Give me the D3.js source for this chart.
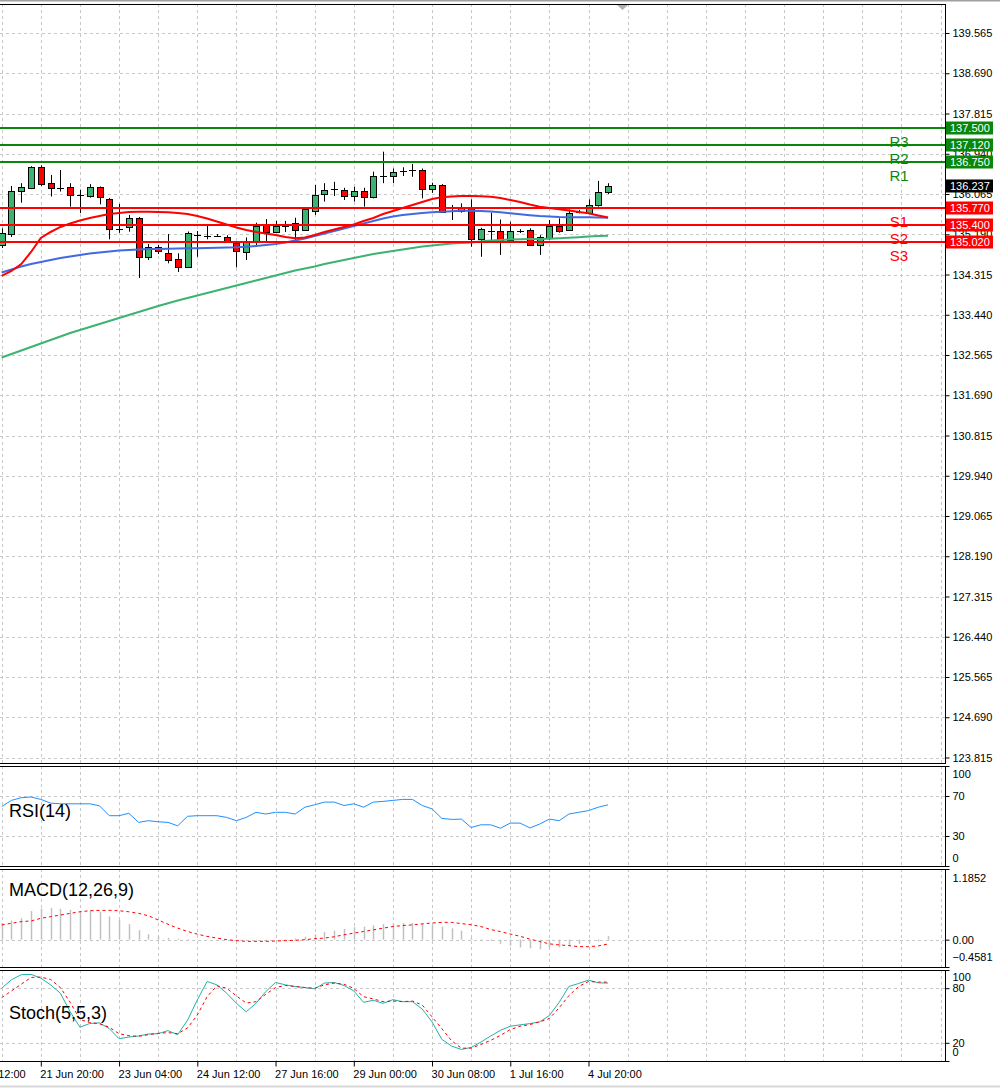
<!DOCTYPE html>
<html>
<head>
<meta charset="utf-8">
<script src="https://cdnjs.cloudflare.com/ajax/libs/d3/7.8.5/d3.min.js"></script>
<style>
body { margin: 0; background: #fff; }
svg { display: block; font-family: "Liberation Sans", Arial, sans-serif; }
</style>
</head>
<body>
<div id="chart"></div>
<script>
// H4 candles, index 0 = 21 Jun 04:00
var openP = [134.956,135.195,136.115,136.189,136.646,136.300,136.206,136.210,136.040,136.006,
             136.210,135.950,135.315,135.330,135.536,134.690,134.906,134.776,134.645,134.485,
             135.174,135.160,135.170,135.120,134.993,134.810,135.040,135.390,135.245,135.370,
             135.440,135.280,135.700,136.058,136.174,136.152,136.028,136.130,135.990,136.445,
             136.456,136.570,136.587,136.587,136.167,136.260,135.717,135.680,135.750,135.080,
             135.267,135.267,135.065,135.260,135.280,134.956,135.120,135.370,135.267,135.670,
             135.645,135.826,136.100];
var highP = [135.320,136.240,136.300,136.670,136.690,136.480,136.587,136.300,136.160,136.280,
             136.230,135.980,135.850,135.610,135.565,134.978,134.956,135.195,134.776,135.250,
             135.260,135.370,135.195,135.170,135.020,135.120,135.440,135.520,135.480,135.480,
             135.550,135.760,136.260,136.300,136.330,136.200,136.220,136.200,136.550,136.985,
             136.620,136.646,136.720,136.620,136.310,136.280,135.826,135.860,135.950,135.330,
             135.660,135.510,135.460,135.300,135.320,135.170,135.500,135.536,135.730,135.720,
             135.950,136.350,136.300];
var lowP = [134.890,135.130,135.876,136.170,136.240,136.010,136.120,135.790,135.650,135.985,
            135.840,135.080,135.220,135.245,134.240,134.630,134.760,134.558,134.370,134.480,
            134.700,135.080,135.150,135.000,134.470,134.630,134.920,135.030,135.240,135.240,
            135.065,135.260,135.610,135.900,136.020,135.935,135.900,135.790,135.970,136.300,
            136.300,136.456,136.440,135.970,136.090,135.660,135.500,135.660,134.920,134.700,
            135.030,134.740,135.030,135.217,134.935,134.740,135.065,135.224,135.260,135.645,
            135.630,135.790,136.065];
var closeP = [135.217,136.130,136.210,136.646,136.283,136.190,136.185,136.028,136.035,136.210,
              135.985,135.300,135.300,135.536,134.690,134.906,134.810,134.630,134.470,135.224,
              135.165,135.152,135.162,135.006,134.810,135.040,135.370,135.245,135.370,135.380,
              135.280,135.730,136.040,136.150,136.165,136.028,136.130,135.990,136.456,136.456,
              136.550,136.565,136.576,136.167,136.260,135.680,135.706,135.750,135.080,135.300,
              135.260,135.065,135.267,135.250,134.956,135.137,135.370,135.267,135.645,135.680,
              135.826,136.100,136.237];

var maRed = [134.283,134.391,134.543,134.804,135.109,135.239,135.348,135.424,135.489,135.543,
             135.587,135.630,135.652,135.674,135.680,135.680,135.674,135.667,135.652,135.630,
             135.587,135.533,135.467,135.402,135.337,135.283,135.239,135.207,135.174,135.130,
             135.102,135.120,135.174,135.239,135.293,135.348,135.402,135.478,135.543,135.630,
             135.696,135.761,135.826,135.891,135.957,135.993,136.011,136.022,136.022,136.015,
             136.007,135.978,135.935,135.891,135.837,135.789,135.761,135.733,135.707,135.674,
             135.646,135.598,135.554];
var maBlue = [134.359,134.424,134.489,134.543,134.587,134.630,134.674,134.707,134.739,134.772,
              134.793,134.815,134.837,134.848,134.859,134.870,134.870,134.876,134.880,134.885,
              134.887,134.891,134.896,134.902,134.907,134.917,134.935,134.957,134.978,135.011,
              135.054,135.098,135.152,135.207,135.261,135.315,135.370,135.424,135.478,135.533,
              135.576,135.609,135.630,135.652,135.667,135.680,135.691,135.700,135.700,135.696,
              135.685,135.667,135.646,135.624,135.604,135.587,135.576,135.565,135.561,135.559,
              135.559,135.554,135.550];
var maGreen = [132.511,132.587,132.663,132.739,132.815,132.891,132.967,133.043,133.109,133.174,
               133.239,133.304,133.370,133.435,133.500,133.565,133.630,133.689,133.750,133.804,
               133.859,133.913,133.967,134.022,134.076,134.130,134.185,134.239,134.293,134.348,
               134.402,134.446,134.489,134.543,134.587,134.630,134.674,134.717,134.761,134.793,
               134.826,134.859,134.891,134.924,134.946,134.967,134.989,135.000,135.011,135.033,
               135.054,135.065,135.076,135.080,135.085,135.087,135.093,135.102,135.113,135.126,
               135.141,135.152,135.159];

var rsiValues = [59.5,65.6,68.3,69.0,66.6,62.9,62.2,62.2,62.2,62.2,
                 60.2,50.3,50.3,52.7,43.6,45.3,44.2,43.6,40.2,49.7,
                 50.3,50.3,50.3,48.6,45.3,48.6,53.7,52.0,53.7,53.7,
                 52.0,58.8,61.2,63.9,63.9,60.5,62.2,58.8,63.9,64.6,
                 65.6,66.6,66.6,60.5,57.1,47.6,46.6,46.9,38.5,41.2,
                 41.2,37.8,42.9,42.9,38.1,41.9,46.9,45.3,52.0,53.7,
                 55.4,58.8,61.2];

var macdMain = [0.28,0.32,0.36,0.48,0.52,0.53,0.52,0.50,0.48,0.49,
                0.47,0.39,0.33,0.26,0.16,0.09,0.055,0.03,0.018,0.012,
                0.006,0.003,0.0,-0.005,-0.01,-0.01,-0.008,-0.005,0.0,0.01,
                0.02,0.05,0.09,0.13,0.15,0.18,0.21,0.22,0.24,0.26,
                0.27,0.28,0.28,0.27,0.25,0.22,0.19,0.15,0.03,0.01,
                -0.02,-0.07,-0.10,-0.13,-0.145,-0.16,-0.145,-0.13,-0.10,-0.07,
                -0.05,-0.03,0.06];
var macdSignal = [0.248,0.275,0.303,0.314,0.358,0.386,0.413,0.441,0.468,0.485,
                  0.491,0.491,0.485,0.468,0.441,0.402,0.330,0.259,0.193,0.137,
                  0.093,0.055,0.027,0.0,-0.016,-0.028,-0.028,-0.028,-0.022,-0.016,
                  -0.011,0.0,0.017,0.027,0.049,0.082,0.110,0.137,0.165,0.193,
                  0.220,0.237,0.248,0.265,0.280,0.290,0.290,0.270,0.250,0.220,
                  0.170,0.135,0.095,0.057,0.010,-0.030,-0.070,-0.088,-0.100,-0.117,
                  -0.117,-0.105,-0.072];

var stochMain = [80.0,89.3,94.8,95.2,91.1,83.7,74.5,54.1,37.1,41.2,
                 41.9,35.6,24.5,26.3,27.5,29.7,30.0,33.4,28.9,44.9,
                 67.0,87.4,83.7,74.5,63.4,54.1,63.4,76.3,86.3,83.7,
                 81.9,80.7,79.3,85.6,86.3,83.0,77.0,64.5,66.7,63.4,
                 67.4,65.2,65.2,57.1,43.0,23.8,16.4,12.7,14.9,20.8,
                 27.5,33.7,38.2,39.7,41.1,43.0,50.0,64.5,81.9,85.2,
                 88.9,85.9,85.6];
var stochSignal = [69.6,77.0,84.4,91.8,92.2,89.6,80.7,64.5,45.6,42.3,
                   40.8,37.1,30.0,27.8,27.1,28.9,30.4,31.2,30.0,36.3,
                   50.4,70.7,82.6,80.0,71.5,63.7,65.2,73.3,80.7,83.0,
                   81.9,80.7,80.0,83.7,85.6,84.4,79.6,70.7,68.2,65.2,
                   65.9,65.2,65.9,61.5,48.5,35.6,22.3,14.1,14.1,18.2,
                   22.7,28.2,34.5,38.2,40.0,43.0,46.7,58.5,71.9,81.9,
                   87.4,86.7,86.7];

var levelNames = ["R3", "R2", "R1", "S1", "S2", "S3"];
var levelValues = [137.50, 137.12, 136.75, 135.77, 135.40, 135.02];
var lastPrice = 136.237;

var priceTicks = [139.565, 138.690, 137.815, 136.940, 136.065, 135.190, 134.315, 133.440, 132.565,
                  131.690, 130.815, 129.940, 129.065, 128.190, 127.315, 126.440, 125.565, 124.690, 123.815];
var timeTickIndex = [-4, 4, 12, 20, 28, 36, 44, 52, 60];
var timeTickLabels = ["20 Jun 12:00", "21 Jun 20:00", "23 Jun 04:00", "24 Jun 12:00", "27 Jun 16:00",
                      "29 Jun 00:00", "30 Jun 08:00", "1 Jul 16:00", "4 Jul 20:00"];

var w = 1000, h = 1088;
var right = 945;

var panels = {
    main:  {top: 4,   bottom: 763},
    rsi:   {top: 766, bottom: 866},
    macd:  {top: 869, bottom: 967},
    stoch: {top: 970, bottom: 1061}
};

var svg = d3.select("#chart").append("svg")
    .attr("width", w)
    .attr("height", h);

svg.append("rect").attr("width", w).attr("height", h).attr("fill", "#fff");
svg.append("line").attr("x1", 0).attr("x2", w).attr("y1", 0.5).attr("y2", 0.5)
    .attr("stroke", "#a0a0a0").attr("stroke-width", 2);
svg.append("line").attr("x1", 0).attr("x2", w).attr("y1", 1086.5).attr("y2", 1086.5)
    .attr("stroke", "#d8d8d8").attr("stroke-width", 2);

// scales
var x = d3.scaleLinear().domain([0, 96]).range([1.7, 940.6]);
var y = d3.scaleLinear().domain([123.815, 139.565]).range([757.5, 33]);
var yRsi = d3.scaleLinear().domain([0, 100]).range([panels.rsi.bottom, panels.rsi.top]);
var yMacd = d3.scaleLinear().domain([-0.4581, 1.1852]).range([panels.macd.bottom, panels.macd.top]);
var yStoch = d3.scaleLinear().domain([0, 100]).range([panels.stoch.bottom, panels.stoch.top]);

function px(v) { return Math.round(v) + 0.5; }

// grid
var gridIdx = d3.range(0, 97, 4);
var grid = svg.append("g")
    .attr("stroke", "#c8c8c8")
    .attr("stroke-dasharray", "3,3")
    .attr("stroke-width", 1);

Object.keys(panels).forEach(function (k) {
    var p = panels[k];
    grid.selectAll(null).data(gridIdx).enter().append("line")
        .attr("x1", function (d) { return px(x(d)); })
        .attr("x2", function (d) { return px(x(d)); })
        .attr("y1", p.top)
        .attr("y2", p.bottom);
});

function hGrid(vals, sc) {
    grid.selectAll(null).data(vals).enter().append("line")
        .attr("x1", 0).attr("x2", right)
        .attr("y1", function (d) { return px(sc(d)); })
        .attr("y2", function (d) { return px(sc(d)); });
}
hGrid(priceTicks, y);
hGrid([70, 30], yRsi);
hGrid([0], yMacd);
hGrid([80, 20], yStoch);

// candles
var candles = d3.range(openP.length).map(function (i) {
    return {i: i, o: openP[i], h: highP[i], l: lowP[i], c: closeP[i]};
});

var cg = svg.append("g");
cg.selectAll("line.wick").data(candles).enter().append("line")
    .attr("class", "wick")
    .attr("x1", function (d) { return px(x(d.i)); })
    .attr("x2", function (d) { return px(x(d.i)); })
    .attr("y1", function (d) { return y(d.h); })
    .attr("y2", function (d) { return y(d.l); })
    .attr("stroke", "#000");

cg.selectAll("rect.body").data(candles.filter(function (d) { return Math.abs(y(d.o) - y(d.c)) >= 2; }))
    .enter().append("rect")
    .attr("class", "body")
    .attr("x", function (d) { return Math.round(x(d.i)) - 2.5; })
    .attr("width", 6)
    .attr("y", function (d) { return Math.round(y(Math.max(d.o, d.c))) + 0.5; })
    .attr("height", function (d) { return Math.round(Math.abs(y(d.o) - y(d.c))); })
    .attr("fill", function (d) { return d.c >= d.o ? "#3cb371" : "#ff0000"; })
    .attr("stroke", "#000");

cg.selectAll("line.doji").data(candles.filter(function (d) { return Math.abs(y(d.o) - y(d.c)) < 2; }))
    .enter().append("line")
    .attr("class", "doji")
    .attr("x1", function (d) { return Math.round(x(d.i)) - 3; })
    .attr("x2", function (d) { return Math.round(x(d.i)) + 4; })
    .attr("y1", function (d) { return px(y(d.c)); })
    .attr("y2", function (d) { return px(y(d.c)); })
    .attr("stroke", "#000");

// moving averages
function drawLine(vals, sc, color, width, dash) {
    var line = d3.line()
        .x(function (d, i) { return x(i); })
        .y(function (d) { return sc(d); });
    svg.append("path")
        .datum(vals)
        .attr("d", line)
        .attr("fill", "none")
        .attr("stroke", color)
        .attr("stroke-width", width)
        .attr("stroke-dasharray", dash || null);
}
drawLine(maGreen, y, "#3cb371", 2);
drawLine(maBlue, y, "#4169e1", 2);
drawLine(maRed, y, "#ff0000", 2);

// support / resistance
var levels = levelNames.map(function (n, i) {
    return {name: n, v: levelValues[i], color: n.charAt(0) === "R" ? "#0a870a" : "#ff0000"};
});
svg.selectAll("line.level").data(levels).enter().append("line")
    .attr("class", "level")
    .attr("x1", 0).attr("x2", right)
    .attr("y1", function (d) { return Math.round(y(d.v)); })
    .attr("y2", function (d) { return Math.round(y(d.v)); })
    .attr("stroke", function (d) { return d.color; })
    .attr("stroke-width", 2);
svg.selectAll("text.level").data(levels).enter().append("text")
    .attr("class", "level")
    .attr("x", 899)
    .attr("y", function (d) { return y(d.v) + 19; })
    .attr("text-anchor", "middle")
    .attr("font-size", 15)
    .attr("fill", function (d) { return d.color; })
    .text(function (d) { return d.name; });

// indicators
drawLine(rsiValues, yRsi, "#1e90ff", 1);

svg.append("g").selectAll("line").data(macdMain).enter().append("line")
    .attr("x1", function (d, i) { return px(x(i)); })
    .attr("x2", function (d, i) { return px(x(i)); })
    .attr("y1", yMacd(0))
    .attr("y2", function (d) { return yMacd(d); })
    .attr("stroke", "#c0c0c0")
    .attr("stroke-width", 1.5);
drawLine(macdSignal, yMacd, "#ff0000", 1, "3,3");

drawLine(stochMain, yStoch, "#20b2aa", 1);
drawLine(stochSignal, yStoch, "#ff0000", 1, "3,3");

// panel borders
Object.keys(panels).forEach(function (k) {
    var p = panels[k];
    svg.append("rect")
        .attr("x", -1).attr("y", p.top + 0.5)
        .attr("width", right + 1.5).attr("height", p.bottom - p.top)
        .attr("fill", "none").attr("stroke", "#000");
});

// price axis
var yAxis = d3.axisRight(y)
    .tickValues(priceTicks)
    .tickFormat(d3.format(".3f"))
    .tickSize(4);
var ya = svg.append("g").attr("transform", "translate(" + (right + 0.5) + ",0)").call(yAxis);

function styleAxis(g) {
    g.select(".domain").remove();
    g.selectAll("text").attr("font-size", 11).attr("font-family", "Liberation Sans, Arial, sans-serif").attr("fill", "#000");
    g.selectAll("line").attr("stroke", "#000");
}
styleAxis(ya);

function subAxis(sc, vals, fmt, topShift, bottomShift) {
    var g = svg.append("g").attr("transform", "translate(" + (right + 0.5) + ",0)")
        .call(d3.axisRight(sc).tickValues(vals).tickFormat(fmt).tickSize(4));
    styleAxis(g);
    var dom = sc.domain();
    g.selectAll("text").attr("y", function (d) {
        if (d === dom[1]) return topShift;
        if (d === dom[0]) return bottomShift;
        return 0;
    });
}
subAxis(yRsi, [100, 70, 30, 0], d3.format("d"), 8, -8);
subAxis(yMacd, [1.1852, 0, -0.4581], function (d) { return d === 0 ? "0.00" : d3.format(".4f")(d); }, 9, -10);
subAxis(yStoch, [100, 80, 20, 0], d3.format("d"), 7, -9);

// level price tags
var tags = levels.concat([{name: "", v: lastPrice, color: "#000"}]);
var tg = svg.selectAll("g.tag").data(tags).enter().append("g")
    .attr("class", "tag")
    .attr("transform", function (d) { return "translate(946," + Math.round(y(d.v)) + ")"; });
tg.append("rect")
    .attr("x", 0).attr("y", -6.5)
    .attr("width", 47).attr("height", 13)
    .attr("fill", function (d) { return d.color; });
tg.append("text")
    .attr("x", 4).attr("y", 0).attr("dy", "0.35em")
    .attr("font-size", 11)
    .attr("fill", "#fff")
    .text(function (d) { return d3.format(".3f")(d.v); });

// time axis
var xAxis = d3.axisBottom(x)
    .tickValues(timeTickIndex)
    .tickFormat(function (d, i) { return timeTickLabels[i]; })
    .tickSize(5);
var xa = svg.append("g").attr("transform", "translate(0," + (panels.stoch.bottom + 0.5) + ")").call(xAxis);
styleAxis(xa);
xa.selectAll("text").attr("text-anchor", "start").attr("x", -1).attr("y", 9);

// indicator titles
var titles = [["RSI(14)", 817], ["MACD(12,26,9)", 896], ["Stoch(5,5,3)", 1019]];
svg.selectAll("text.title").data(titles).enter().append("text")
    .attr("class", "title")
    .attr("x", 9)
    .attr("y", function (d) { return d[1]; })
    .attr("font-size", 18)
    .attr("fill", "#000")
    .text(function (d) { return d[0]; });

// chart shift marker
svg.append("path")
    .attr("d", "M617,5L628,5L622.5,10Z")
    .attr("fill", "#b0b0b0");
</script>
</body>
</html>
